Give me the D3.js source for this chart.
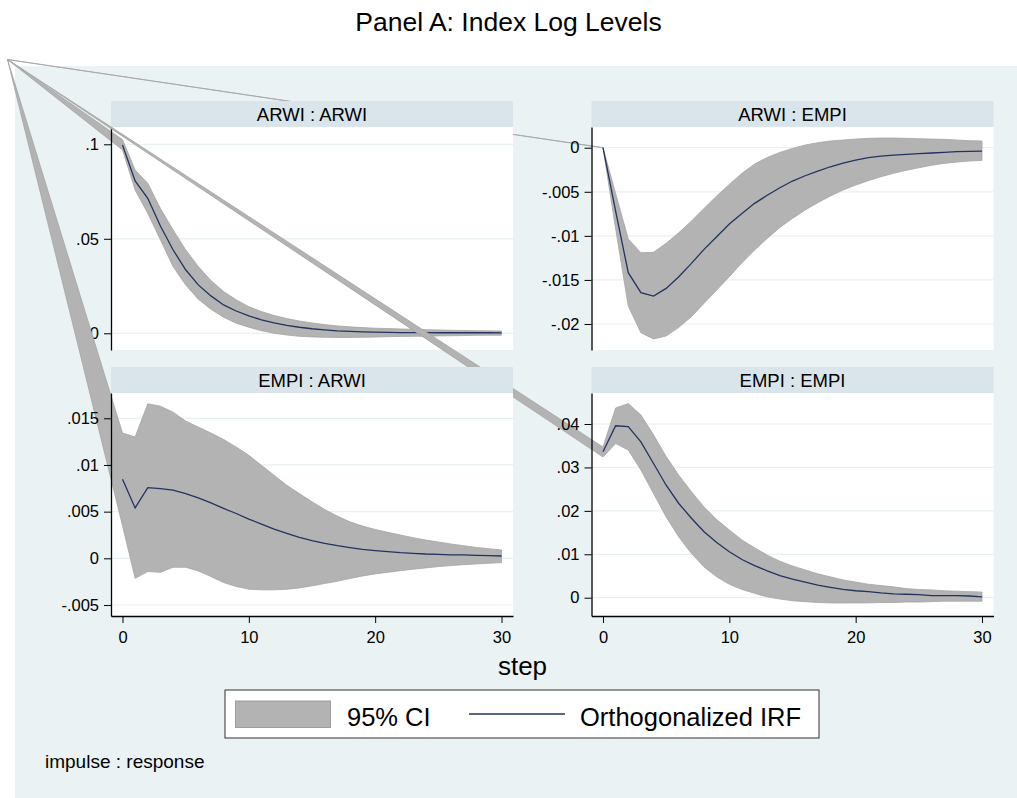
<!DOCTYPE html>
<html>
<head>
<meta charset="utf-8">
<script src="https://cdn.jsdelivr.net/npm/d3@7"></script>
<style>
  body { margin: 0; background: #ffffff; }
  svg { display: block; font-family: "Liberation Sans", Arial, sans-serif; }
</style>
</head>
<body>
<svg id="chart" width="1017" height="798"></svg>
<script>
// steps of the impulse response
var steps = [0,1,2,3,4,5,6,7,8,9,10,11,12,13,14,15,16,17,18,19,20,21,22,23,24,25,26,27,28,29,30];

// ARWI : ARWI
var arwiArwiIrf = [0.0996,0.0806,0.0714,0.0568,0.0442,0.0336,0.0256,0.0198,0.015,0.0118,0.0092,0.0071,0.0055,0.0042,0.0032,0.0024,0.0018,0.0013,0.001,0.0008,0.0006,0.0005,0.0004,0.0004,0.0003,0.0003,0.0003,0.0003,0.0003,0.0003,0.0002];
var arwiArwiHi  = [0.1025,0.0864,0.0794,0.0661,0.0548,0.0442,0.0353,0.0279,0.0221,0.0177,0.0141,0.0115,0.0094,0.0078,0.0065,0.0055,0.0046,0.0039,0.0034,0.003,0.0027,0.0025,0.0023,0.0021,0.0019,0.0018,0.0016,0.0015,0.0014,0.0013,0.0012];
var arwiArwiLo  = [0.097,0.0758,0.0635,0.0495,0.0353,0.0256,0.018,0.0127,0.0085,0.0053,0.0032,0.0014,0.0,-0.0009,-0.0016,-0.0019,-0.0021,-0.0022,-0.0022,-0.0021,-0.002,-0.0018,-0.0017,-0.0016,-0.0015,-0.0014,-0.0013,-0.0012,-0.0011,-0.001,-0.001];

// ARWI : EMPI
var arwiEmpiIrf = [0,-0.0072,-0.01418,-0.01645,-0.01683,-0.01596,-0.01463,-0.01312,-0.01153,-0.0101,-0.00866,-0.00745,-0.00631,-0.0054,-0.00454,-0.00378,-0.00318,-0.00265,-0.00216,-0.00174,-0.0014,-0.00113,-0.00095,-0.00083,-0.00076,-0.00068,-0.0006,-0.00053,-0.00045,-0.00042,-0.00038];
var arwiEmpiHi  = [0,-0.0052,-0.01036,-0.01191,-0.01187,-0.01085,-0.00964,-0.00832,-0.00688,-0.00548,-0.00416,-0.00291,-0.00185,-0.0011,-0.00053,-0.00008,0.0003,0.00057,0.00076,0.00087,0.00098,0.00106,0.0011,0.0011,0.00106,0.00102,0.00098,0.00095,0.00087,0.0008,0.00076];
var arwiEmpiLo  = [0,-0.0092,-0.01796,-0.02099,-0.0217,-0.02136,-0.02038,-0.01917,-0.01766,-0.01615,-0.01463,-0.01305,-0.01161,-0.01029,-0.00904,-0.00802,-0.00707,-0.00624,-0.00548,-0.0048,-0.00424,-0.00374,-0.00329,-0.00291,-0.00257,-0.00227,-0.002,-0.00178,-0.00163,-0.00151,-0.00144];

// EMPI : ARWI
var empiArwiIrf = [0.00847,0.0054,0.00758,0.00747,0.0073,0.00694,0.00648,0.00594,0.00534,0.0048,0.0042,0.00367,0.00313,0.00267,0.00224,0.00189,0.0016,0.00135,0.00114,0.00096,0.00082,0.00071,0.0006,0.00053,0.00046,0.00043,0.00036,0.00036,0.00032,0.00028,0.00025];
var empiArwiHi  = [0.01342,0.013,0.01655,0.0163,0.01566,0.0147,0.01406,0.01342,0.01274,0.01192,0.01103,0.00996,0.0089,0.00783,0.00694,0.00605,0.00523,0.00452,0.00391,0.00345,0.0031,0.00278,0.00249,0.00221,0.00196,0.00174,0.00153,0.00135,0.00117,0.00103,0.00089];
var empiArwiLo  = [0.0035,-0.00214,-0.00142,-0.0015,-0.00096,-0.00096,-0.00135,-0.00196,-0.0026,-0.00302,-0.00331,-0.00338,-0.00338,-0.00331,-0.00317,-0.00295,-0.0027,-0.00246,-0.00217,-0.00189,-0.00167,-0.0015,-0.00132,-0.00117,-0.00103,-0.00089,-0.00078,-0.00068,-0.0006,-0.00053,-0.00046];

// EMPI : EMPI
var empiEmpiIrf = [0.0336,0.0396,0.0394,0.0359,0.0309,0.0259,0.0217,0.0183,0.0152,0.0127,0.0106,0.0088,0.0074,0.0062,0.0051,0.0043,0.0036,0.0029,0.0024,0.0019,0.0016,0.0014,0.0011,0.0009,0.0008,0.0007,0.0005,0.0005,0.0005,0.0004,0.0002];
var empiEmpiHi  = [0.0347,0.0437,0.0447,0.0421,0.0375,0.0325,0.0282,0.0244,0.0209,0.018,0.0156,0.0133,0.0115,0.0098,0.0084,0.0073,0.0064,0.0055,0.0048,0.0041,0.0036,0.0031,0.0028,0.0025,0.0021,0.0019,0.0018,0.0016,0.0015,0.0014,0.0013];
var empiEmpiLo  = [0.0324,0.0355,0.034,0.0294,0.024,0.0186,0.014,0.0102,0.0071,0.0048,0.0031,0.0019,0.001,0.0002,-0.0003,-0.0007,-0.0009,-0.0011,-0.0012,-0.0012,-0.0012,-0.0012,-0.0011,-0.0011,-0.001,-0.001,-0.0009,-0.0008,-0.0008,-0.0008,-0.0008];

// axis settings
var panelTitles = ["ARWI : ARWI", "ARWI : EMPI", "EMPI : ARWI", "EMPI : EMPI"];
var yRanges = [[-0.00884, 0.10915], [-0.02295, 0.00235], [-0.00618, 0.01771], [-0.00421, 0.04714]];
var yTicks = [[0, 0.05, 0.1], [-0.02, -0.015, -0.01, -0.005, 0], [-0.005, 0, 0.005, 0.01, 0.015], [0, 0.01, 0.02, 0.03, 0.04]];
var yTickLabels = [["0", ".05", ".1"], ["-.02", "-.015", "-.01", "-.005", "0"], ["-.005", "0", ".005", ".01", ".015"], ["0", ".01", ".02", ".03", ".04"]];
var xTicks = [0, 10, 20, 30];
var xRange = [-0.91, 30.91];
var legendLabels = ["95% CI", "Orthogonalized IRF"];

var irfs = [arwiArwiIrf, arwiEmpiIrf, empiArwiIrf, empiEmpiIrf];
var his = [arwiArwiHi, arwiEmpiHi, empiArwiHi, empiEmpiHi];
var los = [arwiArwiLo, arwiEmpiLo, empiArwiLo, empiEmpiLo];

// layout
var colX = [111, 591.5], plotW = 402;
var stripY = [101, 367], stripH = 26;
var plotY = [127, 393], plotH = 223;
var corner = [7.5, 59.5]; // stray polygon start point of the CI areas
var bandFill = "#b3b3b3", bandStroke = "#a4a4a4", irfColor = "#22335f";
var drawOrder = [1, 0, 3, 2];

var svg = d3.select("#chart");

svg.append("rect")
  .attr("x", 15).attr("y", 66)
  .attr("width", 1002).attr("height", 732)
  .attr("fill", "#eaf2f3");

svg.append("text")
  .attr("x", 508.5).attr("y", 31)
  .attr("text-anchor", "middle")
  .attr("font-size", 26.5)
  .attr("fill", "#000")
  .text("Panel A: Index Log Levels");

var x = d3.scaleLinear().domain(xRange).range([0, plotW]);

drawOrder.forEach(function(i) {
  var col = i % 2, row = Math.floor(i / 2);
  var px = colX[col], py = plotY[row];
  var y = d3.scaleLinear().domain(yRanges[i]).range([plotH, 0]);

  // strip with panel title
  svg.append("rect")
    .attr("x", px).attr("y", stripY[row])
    .attr("width", plotW).attr("height", stripH)
    .attr("fill", "#d9e5ea");
  svg.append("text")
    .attr("x", px + plotW / 2).attr("y", stripY[row] + stripH / 2)
    .attr("dy", "0.36em")
    .attr("text-anchor", "middle")
    .attr("font-size", 18.5)
    .text(panelTitles[i]);

  var g = svg.append("g").attr("transform", "translate(" + px + "," + py + ")");

  g.append("rect")
    .attr("width", plotW).attr("height", plotH)
    .attr("fill", "#ffffff");

  g.selectAll("line.grid")
    .data(yTicks[i])
    .enter()
    .append("line")
      .attr("class", "grid")
      .attr("x1", 0).attr("x2", plotW)
      .attr("y1", function(d){return y(d);})
      .attr("y2", function(d){return y(d);})
      .attr("stroke", "#e8f0f2")
      .attr("stroke-width", 1.2);

  // CI polygon, starting from the stray corner point
  var pts = [[corner[0] - px, corner[1] - py]];
  steps.forEach(function(s){ pts.push([x(s), y(his[i][s])]); });
  steps.slice().reverse().forEach(function(s){ pts.push([x(s), y(los[i][s])]); });
  g.append("path")
    .attr("d", d3.line()(pts) + "Z")
    .attr("fill", bandFill)
    .attr("stroke", bandStroke)
    .attr("stroke-width", 0.8);

  g.append("path")
    .datum(steps)
    .attr("d", d3.line()
      .x(function(s){return x(s);})
      .y(function(s){return y(irfs[i][s]);}))
    .attr("fill", "none")
    .attr("stroke", irfColor)
    .attr("stroke-width", 1.3);

  var yAxis = g.append("g")
    .call(d3.axisLeft(y)
      .tickValues(yTicks[i])
      .tickFormat(function(d, k){return yTickLabels[i][k];})
      .tickSize(7).tickPadding(5).tickSizeOuter(0));
  yAxis.selectAll("text").attr("font-size", 16.5).attr("font-family", "Liberation Sans, Arial, sans-serif").attr("fill", "#000");
  yAxis.select(".domain").attr("stroke", "#000").attr("stroke-width", 1.3);

  if (row === 1) {
    var xAxis = g.append("g")
      .attr("transform", "translate(0," + plotH + ")")
      .call(d3.axisBottom(x)
        .tickValues(xTicks)
        .tickSize(7).tickPadding(8).tickSizeOuter(0));
    xAxis.selectAll("text").attr("font-size", 16.5).attr("font-family", "Liberation Sans, Arial, sans-serif").attr("fill", "#000");
    xAxis.select(".domain").attr("stroke", "#000").attr("stroke-width", 1.3);
  }
});

// x title
svg.append("text")
  .attr("x", 522.5).attr("y", 675)
  .attr("text-anchor", "middle")
  .attr("font-size", 26)
  .text("step");

// legend
var legend = svg.append("g");
legend.append("rect")
  .attr("x", 225).attr("y", 690)
  .attr("width", 594).attr("height", 48)
  .attr("fill", "#ffffff")
  .attr("stroke", "#333")
  .attr("stroke-width", 1);
legend.append("rect")
  .attr("x", 235.5).attr("y", 701)
  .attr("width", 95).attr("height", 26.5)
  .attr("fill", bandFill)
  .attr("stroke", "#9e9e9e")
  .attr("stroke-width", 1);
legend.append("line")
  .attr("x1", 469).attr("x2", 565)
  .attr("y1", 714).attr("y2", 714)
  .attr("stroke", irfColor)
  .attr("stroke-width", 1.5);
legend.selectAll("text.leg")
  .data(legendLabels)
  .enter()
  .append("text")
    .attr("class", "leg")
    .attr("x", function(d, k){return k === 0 ? 347 : 580;})
    .attr("y", 726)
    .attr("font-size", 25.5)
    .text(function(d){return d;});

svg.append("text")
  .attr("x", 45).attr("y", 768)
  .attr("font-size", 19)
  .text("impulse : response");
</script>
</body>
</html>
